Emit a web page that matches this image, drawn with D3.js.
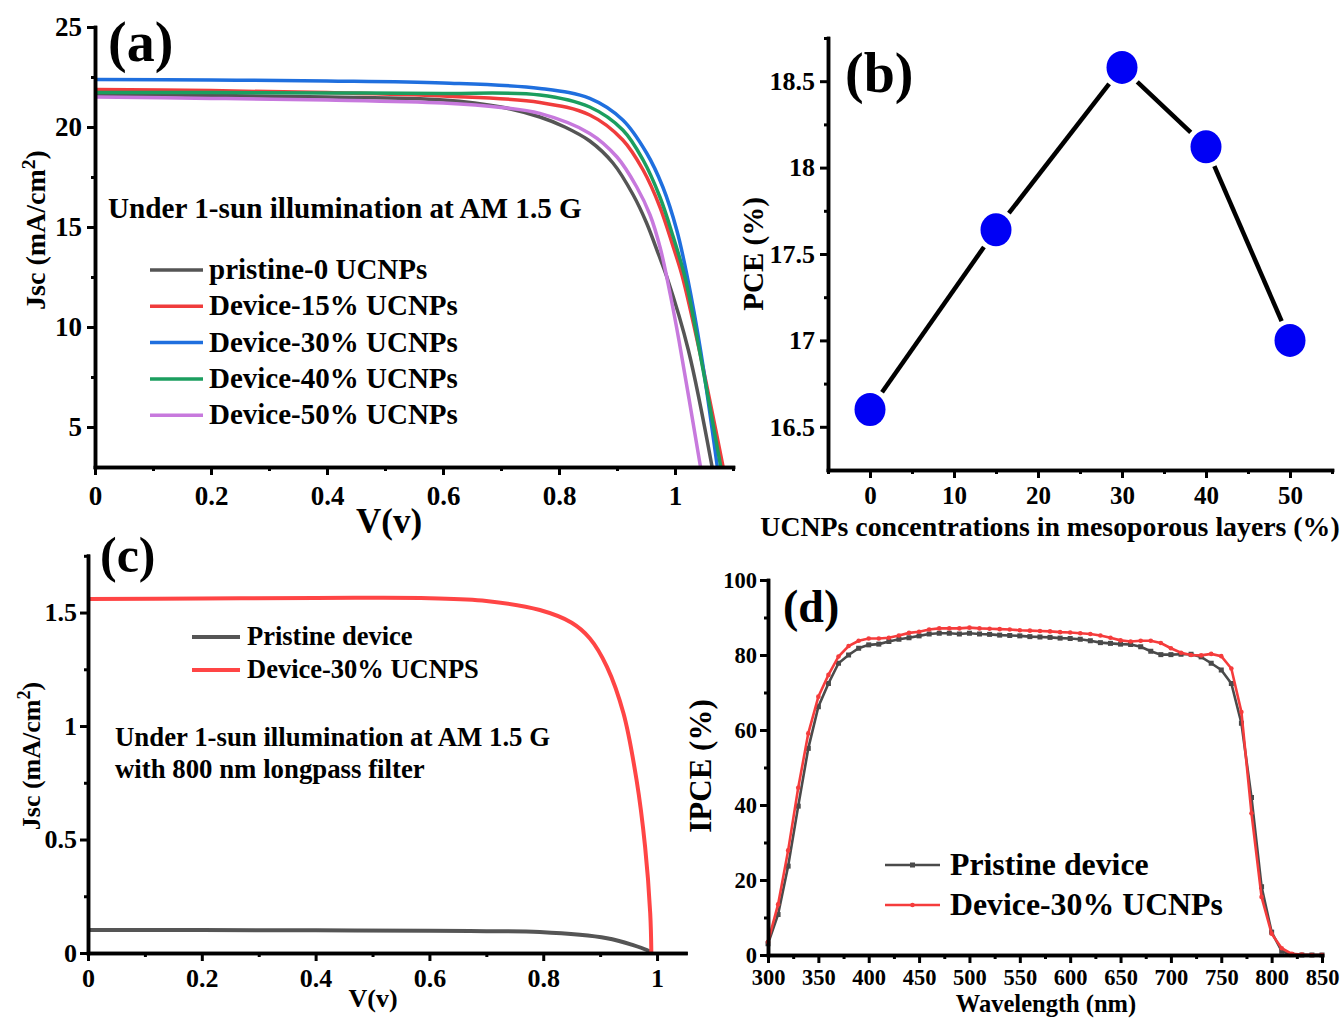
<!DOCTYPE html>
<html><head><meta charset="utf-8">
<script src="https://cdn.jsdelivr.net/npm/d3@7"></script>
<style>
html,body{margin:0;padding:0;background:#fff;}
svg text{font-family:"Liberation Serif","Times New Roman",serif;font-weight:bold;fill:#000;}
</style></head><body>
<svg id="chart" width="1341" height="1019"></svg>
<script>
// ---------- Panel (a) data: J-V curves ----------
const aNames = ["pristine-0 UCNPs","Device-15% UCNPs","Device-30% UCNPs","Device-40% UCNPs","Device-50% UCNPs"];
const aColors = ["#555555","#f03c3c","#1f6fde","#1b9e5f","#c779dd"];
const a0V = [0,0.2,0.4,0.6,0.7,0.767,0.81,0.853,0.893,0.928,0.951,0.972,0.986,1.023,1.064];
const a0J = [21.62,21.58,21.5,21.35,21.0,20.5,20.0,19.3,18.2,16.6,15.2,13.6,12.5,8.85,3.0];
const a15V = [0,0.2,0.4,0.6,0.767,0.853,0.91,0.945,0.974,0.997,1.012,1.043,1.083];
const a15J = [21.88,21.82,21.72,21.55,21.23,20.6,19.35,17.85,16.0,14.0,12.6,8.7,3.0];
const a30V = [0,0.2,0.4,0.6,0.767,0.853,0.91,0.951,0.979,1.003,1.022,1.044,1.073];
const a30J = [22.38,22.35,22.3,22.2,21.93,21.43,20.35,18.7,17.0,14.85,12.4,8.85,3.0];
const a40V = [0,0.2,0.4,0.6,0.767,0.853,0.91,0.945,0.974,0.997,1.018,1.043,1.079];
const a40J = [21.72,21.72,21.7,21.68,21.6,21.0,19.85,18.35,16.5,14.5,12.4,8.7,3.0];
const a50V = [0,0.2,0.4,0.6,0.7,0.767,0.853,0.9,0.934,0.957,0.975,0.992,1.007,1.044];
const a50J = [21.5,21.43,21.35,21.2,20.98,20.68,19.68,18.5,17.0,15.6,13.9,11.6,9.3,3.0];
const aXTicks = [0,0.2,0.4,0.6,0.8,1];
const aXMinor = [0.1,0.3,0.5,0.7,0.9,1.1];
const aYTicks = [5,10,15,20,25];
const aYMinor = [7.5,12.5,17.5,22.5];

// ---------- Panel (b) data: PCE vs concentration ----------
const bConc = [0,15,30,40,50];
const bPCE = [16.6,17.64,18.58,18.12,17.0];
const bXTicks = [0,10,20,30,40,50];
const bXMinor = [-5,5,15,25,35,45,55];
const bYTicks = [16.5,17,17.5,18,18.5];
const bYMinor = [16.75,17.25,17.75,18.25,18.75];

// ---------- Panel (c) data: J-V with 800 nm longpass ----------
const cNames = ["Pristine device","Device-30% UCNPS"];
const cColors = ["#555555","#ff4545"];
const cPrisV = [0,0.2,0.4,0.6,0.7,0.794,0.912,0.958,0.982,0.991];
const cPrisJ = [0.101,0.101,0.1,0.098,0.096,0.092,0.065,0.035,0.013,0];
const cDevV = [0,0.2,0.4,0.5,0.6,0.7,0.794,0.85,0.882,0.912,0.941,0.964,0.979,0.988,0.99];
const cDevJ = [1.56,1.562,1.564,1.565,1.563,1.551,1.511,1.455,1.386,1.261,1.056,0.762,0.468,0.175,0];
const cXTicks = [0,0.2,0.4,0.6,0.8,1];
const cXMinor = [0.1,0.3,0.5,0.7,0.9];
const cYTicks = [0,0.5,1,1.5];
const cYMinor = [0.25,0.75,1.25,1.75];

// ---------- Panel (d) data: IPCE ----------
const dNames = ["Pristine device","Device-30% UCNPs"];
const dColors = ["#4a4a4a","#f53c3c"];
const dWave = [300,310,320,330,340,350,360,370,380,390,400,410,420,430,440,450,460,470,480,490,500,510,520,530,540,550,560,570,580,590,600,610,620,630,640,650,660,670,680,690,700,710,720,730,740,750,760,770,780,790,800,810,820,830,840,850];
const dPristine = [3,10.8,23.7,39.7,55.1,66.2,72.4,77.8,80,81.8,82.7,82.9,83.6,84.2,84.6,85.1,85.6,85.8,85.8,85.6,85.8,85.6,85.5,85.3,85.2,85.1,84.9,84.8,84.7,84.5,84.4,84.2,83.8,83.3,83.1,82.9,82.8,82.2,81.0,80.1,80.1,80.2,80.2,79.5,77.8,76.0,72.4,61.8,42,18.2,6.1,1.0,0.1,0,0,0];
const dDevice = [3.5,13.5,27.9,44.6,59.1,68.9,74.7,79.6,82.4,83.8,84.4,84.4,84.6,85.2,85.9,86.2,86.8,87.1,87.1,87.1,87.3,87.1,87.0,86.9,86.8,86.6,86.5,86.4,86.3,86.1,86.0,85.8,85.6,85.2,84.6,83.9,83.6,83.8,83.8,83.2,81.8,80.6,80.0,79.9,80.3,79.7,76.4,64.8,37.8,15.5,5.7,1.8,0.3,0.1,0,0];
const dXTicks = [300,350,400,450,500,550,600,650,700,750,800,850];
const dXMinor = [325,375,425,475,525,575,625,675,725,775,825];
const dYTicks = [0,20,40,60,80,100];
const dYMinor = [10,30,50,70,90];

const svg = d3.select("#chart");

function drawAxes(x, y, o) {
  const y0 = y.range()[0], x0 = x.range()[0];
  const gxm = svg.append("g").attr("transform", `translate(0,${y0})`)
    .call(d3.axisBottom(x).tickValues(o.xMinor).tickSize(4).tickSizeOuter(0).tickFormat(""));
  const gx = svg.append("g").attr("transform", `translate(0,${y0})`)
    .call(d3.axisBottom(x).tickValues(o.xTicks).tickSize(8).tickSizeOuter(0).tickPadding(o.xPad).tickFormat(d => String(d)));
  const gym = svg.append("g").attr("transform", `translate(${x0},0)`)
    .call(d3.axisLeft(y).tickValues(o.yMinor).tickSize(4).tickSizeOuter(0).tickFormat(""));
  const gy = svg.append("g").attr("transform", `translate(${x0},0)`)
    .call(d3.axisLeft(y).tickValues(o.yTicks).tickSize(8).tickSizeOuter(0).tickPadding(o.yPad).tickFormat(d => String(d)));
  [gxm, gx, gym, gy].forEach(g => {
    g.attr("font-family", null);
    g.select(".domain").attr("stroke", "#000").attr("stroke-width", 3.5).attr("stroke-linecap", "square");
    g.selectAll(".tick line").attr("stroke", "#000").attr("stroke-width", 3);
  });
  gx.attr("font-size", o.fs); gy.attr("font-size", o.fsY || o.fs);
  gx.selectAll("text").attr("fill", "#000");
  gy.selectAll("text").attr("fill", "#000");
}

function addText(x, y, str, fs, anchor) {
  return svg.append("text").attr("x", x).attr("y", y).attr("font-size", fs)
    .attr("text-anchor", anchor || "start").text(str);
}
function addRotTitle(x, y, fs, parts) {
  const t = svg.append("text").attr("transform", `translate(${x},${y}) rotate(-90)`)
    .attr("font-size", fs).attr("text-anchor", "middle");
  parts.forEach(p => {
    const ts = t.append("tspan").text(p.t);
    if (p.sup) ts.attr("baseline-shift", "super").attr("font-size", fs * 0.7);
  });
  return t;
}

// ================= Panel (a) =================
{
  const x = d3.scaleLinear().domain([0, 1.1]).range([95, 733]);
  const y = d3.scaleLinear().domain([3, 25]).range([467, 27]);
  const series = [[a0V,a0J],[a15V,a15J],[a30V,a30J],[a40V,a40J],[a50V,a50J]];
  const line = d3.line().x(d => x(d[0])).y(d => y(d[1])).curve(d3.curveCatmullRom.alpha(0.5));
  series.forEach((s, i) => {
    const pts = s[0].map((v, k) => [v, s[1][k]]);
    svg.append("path").attr("d", line(pts)).attr("fill", "none")
      .attr("stroke", aColors[i]).attr("stroke-width", 3.5);
  });
  drawAxes(x, y, {xTicks: aXTicks, xMinor: aXMinor, yTicks: aYTicks, yMinor: aYMinor, xPad: 11, yPad: 5, fs: 27});
  addText(108, 61, "(a)", 56);
  addText(108, 218, "Under 1-sun illumination at AM 1.5 G", 29.2);
  aNames.forEach((n, i) => {
    const ly = 270 + i * 36.3;
    svg.append("line").attr("x1", 150).attr("x2", 203).attr("y1", ly).attr("y2", ly)
      .attr("stroke", aColors[i]).attr("stroke-width", 3.5);
    addText(209, ly + 9, n, 29);
  });
  addRotTitle(45, 230, 28, [{t: "Jsc (mA/cm"}, {t: "2", sup: true}, {t: ")"}]);
  addText(389, 533, "V(v)", 35, "middle");
}

// ================= Panel (b) =================
{
  const x = d3.scaleLinear().domain([-5, 55]).range([828, 1332]);
  const y = d3.scaleLinear().domain([16.25, 18.75]).range([470, 38]);
  const gap = 21;
  for (let i = 0; i < bConc.length - 1; i++) {
    const x1 = x(bConc[i]), y1 = y(bPCE[i]), x2 = x(bConc[i + 1]), y2 = y(bPCE[i + 1]);
    const len = Math.hypot(x2 - x1, y2 - y1), ux = (x2 - x1) / len, uy = (y2 - y1) / len;
    svg.append("line").attr("x1", x1 + ux * gap).attr("y1", y1 + uy * gap)
      .attr("x2", x2 - ux * gap).attr("y2", y2 - uy * gap)
      .attr("stroke", "#000").attr("stroke-width", 4.5);
  }
  svg.selectAll(".bpt").data(bConc).enter().append("ellipse")
    .attr("cx", d => x(d)).attr("cy", (d, i) => y(bPCE[i]))
    .attr("rx", 15.5).attr("ry", 16.5).attr("fill", "#0000f5");
  drawAxes(x, y, {xTicks: bXTicks, xMinor: bXMinor, yTicks: bYTicks, yMinor: bYMinor, xPad: 8, yPad: 5, fs: 25, fsY: 26});
  addText(845, 92, "(b)", 56);
  addRotTitle(763, 254, 29, [{t: "PCE (%)"}]);
  addText(1050, 536, "UCNPs concentrations in mesoporous layers (%)", 27.8, "middle");
}

// ================= Panel (c) =================
{
  const x = d3.scaleLinear().domain([0, 1.05]).range([88, 685.5]);
  const y = d3.scaleLinear().domain([0, 1.75]).range([953, 555.8]);
  const line = d3.line().x(d => x(d[0])).y(d => y(d[1])).curve(d3.curveCatmullRom.alpha(0.5));
  [[cPrisV, cPrisJ], [cDevV, cDevJ]].forEach((s, i) => {
    const pts = s[0].map((v, k) => [v, s[1][k]]);
    svg.append("path").attr("d", line(pts)).attr("fill", "none")
      .attr("stroke", cColors[i]).attr("stroke-width", 4);
  });
  drawAxes(x, y, {xTicks: cXTicks, xMinor: cXMinor, yTicks: cYTicks, yMinor: cYMinor, xPad: 8, yPad: 3, fs: 26});
  addText(100, 572, "(c)", 50);
  cNames.forEach((n, i) => {
    const ly = 637 + i * 33;
    svg.append("line").attr("x1", 192).attr("x2", 240).attr("y1", ly).attr("y2", ly)
      .attr("stroke", cColors[i]).attr("stroke-width", 4);
    addText(247, ly + 8, n, 26.5);
  });
  addText(115, 746, "Under 1-sun illumination at AM 1.5 G", 26.8);
  addText(115, 778, "with 800 nm longpass filter", 26.8);
  addRotTitle(40, 756, 26, [{t: "Jsc (mA/cm"}, {t: "2", sup: true}, {t: ")"}]);
  addText(373, 1007, "V(v)", 26, "middle");
}

// ================= Panel (d) =================
{
  const x = d3.scaleLinear().domain([300, 850]).range([768, 1322]);
  const y = d3.scaleLinear().domain([0, 100]).range([955, 580]);
  const line = d3.line().x(d => x(d[0])).y(d => y(d[1]));
  const sets = [dPristine, dDevice];
  sets.forEach((vals, i) => {
    const pts = dWave.map((w, k) => [w, vals[k]]);
    svg.append("path").attr("d", line(pts)).attr("fill", "none")
      .attr("stroke", dColors[i]).attr("stroke-width", 2.6);
    if (i === 0) {
      svg.selectAll(".dsq").data(pts).enter().append("rect")
        .attr("x", d => x(d[0]) - 2.5).attr("y", d => y(d[1]) - 2.5)
        .attr("width", 5).attr("height", 5).attr("fill", dColors[0]);
    } else {
      svg.selectAll(".dci").data(pts).enter().append("circle")
        .attr("cx", d => x(d[0])).attr("cy", d => y(d[1])).attr("r", 2.3).attr("fill", dColors[1]);
    }
  });
  drawAxes(x, y, {xTicks: dXTicks, xMinor: dXMinor, yTicks: dYTicks, yMinor: dYMinor, xPad: 6, yPad: 3, fs: 22.5});
  addText(783, 622, "(d)", 46);
  dNames.forEach((n, i) => {
    const ly = 865 + i * 40;
    svg.append("line").attr("x1", 885).attr("x2", 940).attr("y1", ly).attr("y2", ly)
      .attr("stroke", dColors[i]).attr("stroke-width", 2.6);
    if (i === 0) svg.append("rect").attr("x", 910).attr("y", ly - 2.5).attr("width", 5).attr("height", 5).attr("fill", dColors[0]);
    else svg.append("circle").attr("cx", 912.5).attr("cy", ly).attr("r", 2.3).attr("fill", dColors[1]);
    addText(950, ly + 10, n, 31.8);
  });
  addRotTitle(711, 766, 31, [{t: "IPCE (%)"}]);
  addText(1046, 1012, "Wavelength (nm)", 24.5, "middle");
}
</script>
</body></html>
